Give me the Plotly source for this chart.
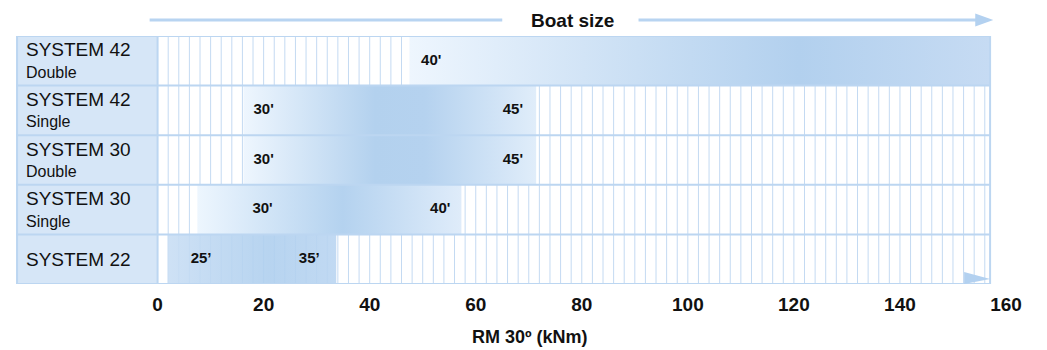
import numpy as np
import plotly.graph_objects as go

# rows, top to bottom
systems = ["SYSTEM 42", "SYSTEM 42", "SYSTEM 30", "SYSTEM 30", "SYSTEM 22"]
variants = ["Double", "Single", "Double", "Single", ""]
# RM 30° range covered by each system (kNm)
rm_start = [47.5, 16.2, 16.2, 7.5, 1.9]
rm_end = [157, 71.4, 71.4, 57.3, 33.7]
# boat size markers inside the bars
size_text = [["40'"], ["30'", "45'"], ["30'", "45'"], ["30'", "40'"], ["25’", "35’"]]
size_rm = [[51.6], [20.0, 67.0], [20.0, 67.0], [19.8, 53.3], [8.2, 28.6]]
x_ticks = [0, 20, 40, 60, 80, 100, 120, 140, 160]

FONT = "Liberation Sans, Arial, Helvetica, sans-serif"
BORDER = "#bcd6f1"
GRID = "#c4daf2"
LABEL_BG = "#d6e6f7"
X0, XGRID = -26.7, 157

gradients = [
    [[0, "#eef6fe"], [0.3, "#d2e4f6"], [0.67, "#b2d0ee"], [1, "#c6dbf3"]],
    [[0, "#eef6fe"], [0.45, "#b3d1ee"], [0.62, "#b5d2ef"], [1, "#e0edfa"]],
    [[0, "#eef6fe"], [0.45, "#b3d1ee"], [0.62, "#b5d2ef"], [1, "#e0edfa"]],
    [[0, "#edf6fe"], [0.55, "#b4d2ef"], [1, "#dfecfa"]],
    [[0, "#c9def4"], [0.6, "#afcfee"], [1, "#bad5f1"]],
]

n = len(systems)
fig = go.Figure()

# background grid, every 2 kNm
gx, gy = [], []
for g in np.arange(2, XGRID, 2):
    gx += [g, g, None]
    gy += [-0.5, n - 0.5, None]
fig.add_trace(go.Scatter(x=gx, y=gy, mode="lines", line=dict(color=GRID, width=1),
                         hoverinfo="skip", showlegend=False))

# range bars with horizontal gradient
for i in range(n):
    s, e = rm_start[i], rm_end[i]
    fig.add_trace(go.Scatter(
        x=[s, e, e, s, s], y=[i - 0.5, i - 0.5, i + 0.5, i + 0.5, i - 0.5],
        mode="lines", fill="toself", line=dict(width=0),
        fillgradient=dict(type="horizontal", colorscale=gradients[i]),
        opacity=0.9 if i == n - 1 else 1,
        hoverinfo="skip", showlegend=False))

# boat size labels
tx, ty, tt = [], [], []
for i in range(n):
    for pos, lab in zip(size_rm[i], size_text[i]):
        tx.append(pos)
        ty.append(i)
        tt.append(lab)
fig.add_trace(go.Scatter(x=tx, y=ty, text=tt, mode="text",
                         textfont=dict(family=FONT, size=15, color="#111", weight="bold"),
                         hoverinfo="skip", showlegend=False))

shapes = []
# label column
shapes.append(dict(type="rect", xref="x", yref="y", x0=X0, x1=0, y0=-0.5, y1=n - 0.5,
                   fillcolor=LABEL_BG, line=dict(width=0), layer="below"))
# row borders
for k in range(n + 1):
    shapes.append(dict(type="line", xref="x", yref="y", x0=X0, x1=XGRID, y0=k - 0.5, y1=k - 0.5,
                       line=dict(color=BORDER, width=2)))
for xv in [X0 + 0.2, 0, XGRID]:
    shapes.append(dict(type="line", xref="x", yref="y", x0=xv, x1=xv, y0=-0.5, y1=n - 0.5,
                       line=dict(color=BORDER, width=2)))
# arrow head at bottom right
shapes.append(dict(type="path", xref="x", yref="y",
                   path=f"M 152.1,{n - 0.74} L {XGRID},{n - 0.6} L 152.1,{n - 0.5} Z",
                   fillcolor="#b3d1f0", line=dict(width=0)))
# "Boat size" arrow above the chart
ya = 1.0645
shapes.append(dict(type="line", xref="x", yref="paper", x0=-1.5, x1=65, y0=ya, y1=ya,
                   line=dict(color="#b8d4f1", width=3)))
shapes.append(dict(type="line", xref="x", yref="paper", x0=90.7, x1=155, y0=ya, y1=ya,
                   line=dict(color="#b8d4f1", width=3)))
shapes.append(dict(type="path", xref="x", yref="paper",
                   path=f"M 154.2,{ya + 0.026} L 157.6,{ya} L 154.2,{ya - 0.026} Z",
                   fillcolor="#b3d1f0", line=dict(width=0)))

annotations = []
for i in range(n):
    two_lines = bool(variants[i])
    annotations.append(dict(x=-25.1, y=i - 0.22 if two_lines else i, xref="x", yref="y",
                            text=systems[i], showarrow=False, xanchor="left", yanchor="middle",
                            font=dict(family=FONT, size=19, color="#111")))
    if two_lines:
        annotations.append(dict(x=-25.1, y=i + 0.23, xref="x", yref="y", text=variants[i],
                                showarrow=False, xanchor="left", yanchor="middle",
                                font=dict(family=FONT, size=16, color="#111")))
annotations.append(dict(x=78.2, y=ya, xref="x", yref="paper", text="Boat size", showarrow=False,
                        xanchor="center", yanchor="middle",
                        font=dict(family=FONT, size=19, color="#111", weight="bold")))
# axis title placed under the tick labels
annotations.append(dict(x=70.3, y=-0.2137, xref="x", yref="paper", text="RM 30º (kNm)",
                        showarrow=False, xanchor="center", yanchor="middle",
                        font=dict(family=FONT, size=18, color="#111", weight="bold")))

# the page adds an 8px body margin, so the figure is offset by 8px
fig.update_layout(
    width=1039, height=342,
    margin=dict(l=8, r=41, t=28, b=66),
    paper_bgcolor="white", plot_bgcolor="white",
    shapes=shapes, annotations=annotations,
    xaxis=dict(range=[X0, 160], tickvals=x_ticks, showgrid=False, zeroline=False,
               showline=False, ticks="outside", ticklen=3, tickcolor="rgba(0,0,0,0)",
               automargin=False,
               tickfont=dict(family=FONT, size=19, color="#111", weight="bold")),
    yaxis=dict(range=[n - 0.5, -0.5], showticklabels=False, showgrid=False,
               zeroline=False, showline=False, automargin=False),
)

fig.write_html("out.html")
